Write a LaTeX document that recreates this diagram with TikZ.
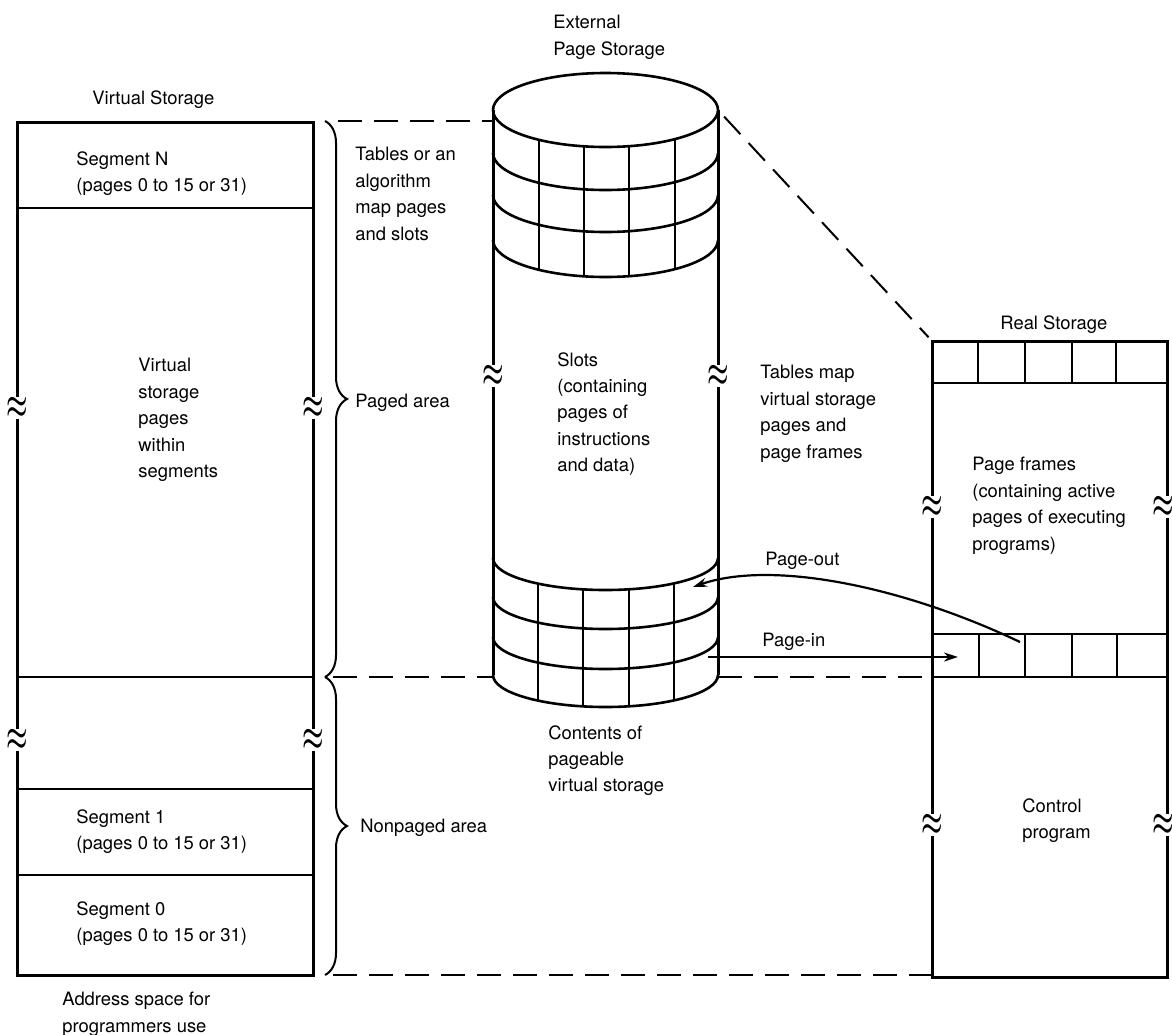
\documentclass[tikz,border=0pt]{standalone}
\usepackage{fontspec}
\setmainfont{TeX Gyre Heros}
\usepackage{tikz}
\usetikzlibrary{decorations.pathreplacing, decorations}
\usetikzlibrary{arrows.meta, positioning}

\begin{document}
\begin{tikzpicture}[x=0.5pt,y=-0.5pt,>={Stealth[length=7pt,width=4.5pt]},
    every node/.style={font=\fontsize{9.2}{13.2}\selectfont}]
    \tikzstyle{lbl}=[anchor=north west,align=left,inner sep=0pt]
    \tikzstyle{box}=[line width=1.5pt]
    \tikzstyle{grid}=[line width=1.1pt]
    \tikzstyle{band}=[line width=1.3pt]
    \tikzstyle{link}=[line width=1pt,dash pattern=on 12pt off 6pt]
    \tikzstyle{brc}=[decorate,decoration={brace,amplitude=11pt},line width=1pt]
    \tikzstyle{brk}=[fill=white,inner sep=0pt,font=\boldmath\large]
    \newcommand{\brkmark}{\scalebox{1}[1.6]{$\approx$}}

    \useasboundingbox (0,0) rectangle (1172,1034);

    % virtual storage
    \draw[box] (17,122) rectangle (313,975);
    \draw[grid] (17,208) -- (313,208) (17,677) -- (313,677)
        (17,789) -- (313,789) (17,875) -- (313,875);

    % external page storage
    \draw[box] (493,110) -- (493,675) (718,110) -- (718,675);
    \draw[band] (605.5,110) ellipse[x radius=56.25pt,y radius=18.5pt];
    \draw[band] (493,153) arc[start angle=180,end angle=360,x radius=56.25pt,y radius=18.5pt];
    \draw[band] (493,195) arc[start angle=180,end angle=360,x radius=56.25pt,y radius=18.5pt];
    \draw[band] (493,240) arc[start angle=180,end angle=360,x radius=56.25pt,y radius=18.5pt];
    \draw[grid] (539,140) -- (539,270) (584,146) -- (584,276)
        (629,146) -- (629,276) (675,139) -- (675,269);
    \draw[band] (493,558) arc[start angle=180,end angle=360,x radius=56.25pt,y radius=16pt];
    \draw[band] (493,597) arc[start angle=180,end angle=360,x radius=56.25pt,y radius=16pt];
    \draw[band] (493,637) arc[start angle=180,end angle=360,x radius=56.25pt,y radius=16pt];
    \draw[band] (493,675) arc[start angle=180,end angle=360,x radius=56.25pt,y radius=16pt];
    \draw[grid] (538,584) -- (538,701) (583,589) -- (583,706)
        (629,589) -- (629,706) (674,583) -- (674,700);

    % real storage
    \draw[box] (932,341) rectangle (1167,977);
    \draw[grid] (932,383) -- (1167,383) (978,341) -- (978,383) (1025,341) -- (1025,383)
        (1072,341) -- (1072,383) (1116,341) -- (1116,383);
    \draw[grid] (932,634) -- (1167,634) (932,677) -- (1167,677) (979,634) -- (979,677)
        (1025,634) -- (1025,677) (1072,634) -- (1072,677) (1117,634) -- (1117,677);

    \node[brk] (vb1) at (17,408) {\brkmark};
    \node[brk] (vb2) at (313,408) {\brkmark};
    \node[brk] (vb3) at (17,740) {\brkmark};
    \node[brk] (vb4) at (313,740) {\brkmark};
    \node[brk] (cb1) at (493,376) {\brkmark};
    \node[brk] (cb2) at (718,376) {\brkmark};
    \node[brk] (rb1) at (932,507) {\brkmark};
    \node[brk] (rb2) at (1163,507) {\brkmark};
    \node[brk] (rb3) at (932,825) {\brkmark};
    \node[brk] (rb4) at (1163,825) {\brkmark};

    \node[lbl] (ext) at (553,15) {External\\Page Storage};
    \node[lbl] (vst) at (92,90) {Virtual Storage};
    \node[lbl] (segN) at (76,151) {Segment N\\(pages 0 to 15 or 31)};
    \node[lbl] (vpg) at (138,358) {Virtual\\storage\\pages\\within\\segments};
    \node[lbl] (seg1) at (76,809) {Segment 1\\(pages 0 to 15 or 31)};
    \node[lbl] (seg0) at (76,901) {Segment 0\\(pages 0 to 15 or 31)};
    \node[lbl] (addr) at (62,992) {Address space for\\programmers use};
    \node[lbl] (tbl) at (355,147) {Tables or an\\algorithm\\map pages\\and slots};
    \node[lbl] (paged) at (355,394) {Paged area};
    \node[lbl] (npaged) at (360,819) {Nonpaged area};
    \node[lbl] (slots) at (557,352) {Slots\\(containing\\pages of\\instructions\\and data)};
    \node[lbl] (cont) at (548,725) {Contents of\\pageable\\virtual storage};
    \node[lbl] (tmap) at (760,365) {Tables map\\virtual storage\\pages and\\page frames};
    \node[lbl] (rst) at (1000,315) {Real Storage};
    \node[lbl] (pfr) at (972,457) {Page frames\\(containing active\\pages of executing\\programs)};
    \node[lbl] (ctl) at (1022,798) {Control\\program};
    \node[lbl] (pout) at (765,552) {Page-out};
    \node[lbl] (pin) at (762,633) {Page-in};

    \coordinate (pgTop) at (325,121);
    \coordinate (pgMid) at (325,677);
    \coordinate (npBot) at (325,975);
    \coordinate (cylTW) at (493,121);
    \coordinate (cylMW) at (493,677);
    \coordinate (cylME) at (718,677);
    \coordinate (cylNE) at (718,110);
    \coordinate (rsNW) at (932,341);
    \coordinate (rsMW) at (932,677);
    \coordinate (rsBW) at (932,975);
    \coordinate (outS) at (1020,642);
    \coordinate (outE) at (693,587);
    \coordinate (inS) at (708,657);
    \coordinate (inE) at (958,657);

    \draw[brc] (pgTop) -- (pgMid);
    \draw[brc] (pgMid) -- (npBot);
    \draw[link] ([xshift=6.5pt]pgTop) -- (cylTW);
    \draw[link] ([xshift=4pt]pgMid) -- (cylMW);
    \draw[link] (cylME) -- (rsMW);
    \draw[link] ([xshift=4pt]npBot) -- (rsBW);
    \draw[link,shorten <=4.5pt,shorten >=2.5pt] (cylNE) -- (rsNW);

    \draw[->,grid] (outS) .. controls (900,585) and (770,560) .. (outE);
    \draw[->,grid] (inS) -- (inE);
\end{tikzpicture}
\end{document}
